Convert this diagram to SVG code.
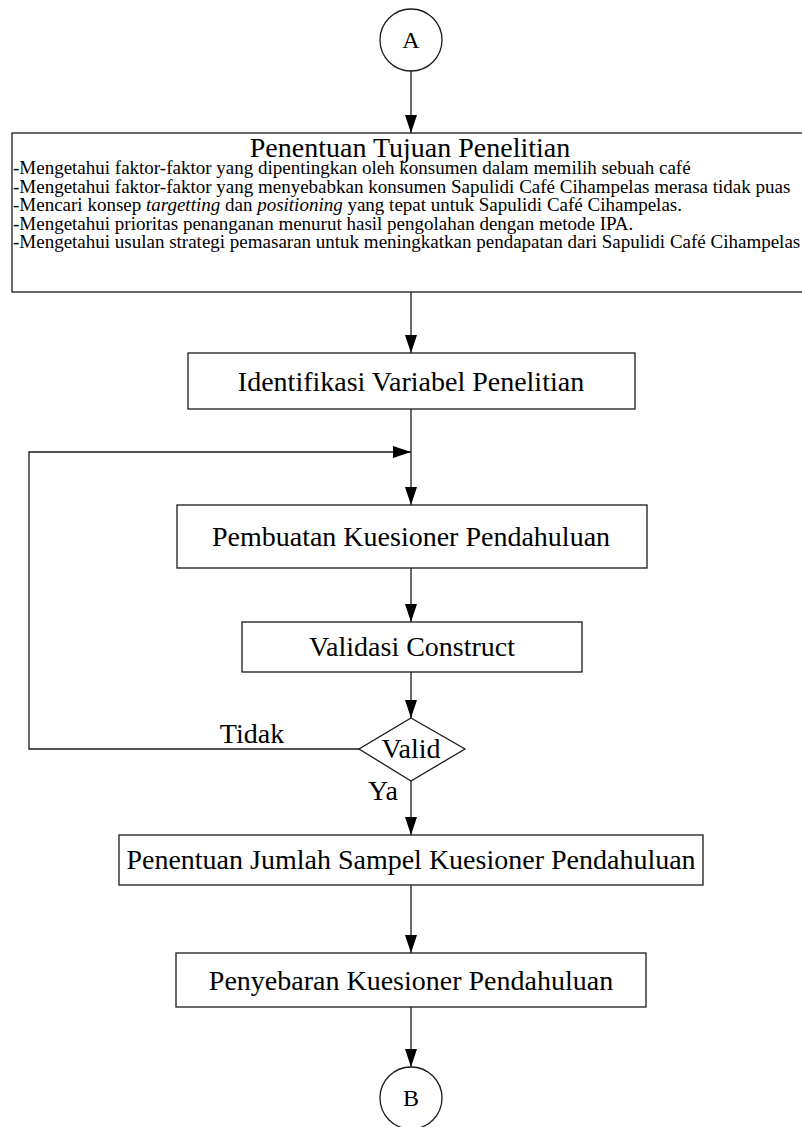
<svg xmlns="http://www.w3.org/2000/svg" width="802" height="1127" viewBox="0 0 802 1127">
<defs>
<marker id="arr" markerUnits="userSpaceOnUse" markerWidth="18" markerHeight="12" refX="18" refY="6" orient="auto">
<path d="M0,0 L18,6 L0,12 z" fill="#000"/>
</marker>
<style>
.shape{fill:#fff;stroke:#1a1a1a;stroke-width:1.3}
.conn{fill:none;stroke:#1a1a1a;stroke-width:1.3}
.lbl{font-family:"Liberation Serif","Times New Roman",serif;font-size:28px;fill:#000;text-anchor:middle}
.body{font-family:"Liberation Serif","Times New Roman",serif;font-size:19px;fill:#000}
.sym{font-family:"Liberation Serif","Times New Roman",serif;font-size:24px;fill:#000;text-anchor:middle}
</style>
</defs>
<rect width="802" height="1127" fill="#fff"/>
<g id="connectors">
<line class="conn" x1="411" y1="71" x2="411" y2="133" marker-end="url(#arr)"/>
<line class="conn" x1="411" y1="292" x2="411" y2="353" marker-end="url(#arr)"/>
<line class="conn" x1="411" y1="409" x2="411" y2="505" marker-end="url(#arr)"/>
<line class="conn" x1="411" y1="568" x2="411" y2="622" marker-end="url(#arr)"/>
<line class="conn" x1="411" y1="672" x2="411" y2="718" marker-end="url(#arr)"/>
<polyline class="conn" points="359,749 29,749 29,452 411,452" marker-end="url(#arr)"/>
<line class="conn" x1="411" y1="781" x2="411" y2="835" marker-end="url(#arr)"/>
<line class="conn" x1="411" y1="885" x2="411" y2="953" marker-end="url(#arr)"/>
<line class="conn" x1="411" y1="1007" x2="411" y2="1067" marker-end="url(#arr)"/>
<text class="lbl" x="252" y="743">Tidak</text>
<text class="lbl" x="383" y="800">Ya</text>
</g>
<g id="nodeA">
<circle class="shape" cx="411" cy="40" r="31"/>
<text class="sym" x="411" y="48">A</text>
</g>
<g id="tujuan">
<rect class="shape" x="12" y="133" width="800" height="159"/>
<text class="lbl" x="410" y="157">Penentuan Tujuan Penelitian</text>
<text class="body" x="13" y="174">-Mengetahui faktor-faktor yang dipentingkan oleh konsumen dalam memilih sebuah café</text>
<text class="body" x="13" y="192.5">-Mengetahui faktor-faktor yang menyebabkan konsumen Sapulidi Café Cihampelas merasa tidak puas</text>
<text class="body" x="13" y="211">-Mencari konsep <tspan font-style="italic">targetting</tspan> dan <tspan font-style="italic">positioning</tspan> yang tepat untuk Sapulidi Café Cihampelas.</text>
<text class="body" x="13" y="229.5">-Mengetahui prioritas penanganan menurut hasil pengolahan dengan metode IPA.</text>
<text class="body" x="13" y="248">-Mengetahui usulan strategi pemasaran untuk meningkatkan pendapatan dari Sapulidi Café Cihampelas</text>
</g>
<g id="identifikasi">
<rect class="shape" x="188" y="353" width="447" height="56"/>
<text class="lbl" x="411" y="391">Identifikasi Variabel Penelitian</text>
</g>
<g id="pembuatan">
<rect class="shape" x="177" y="505" width="470" height="63"/>
<text class="lbl" x="411" y="546">Pembuatan Kuesioner Pendahuluan</text>
</g>
<g id="validasi">
<rect class="shape" x="242" y="622" width="340" height="50"/>
<text class="lbl" x="412" y="656">Validasi Construct</text>
</g>
<g id="valid">
<polygon class="shape" points="411,718 465,749 411,781 359,749"/>
<text class="lbl" x="411" y="758">Valid</text>
</g>
<g id="jumlah">
<rect class="shape" x="119" y="835" width="584" height="50"/>
<text class="lbl" x="411" y="869">Penentuan Jumlah Sampel Kuesioner Pendahuluan</text>
</g>
<g id="penyebaran">
<rect class="shape" x="176" y="953" width="470" height="54"/>
<text class="lbl" x="411" y="990">Penyebaran Kuesioner Pendahuluan</text>
</g>
<g id="nodeB">
<circle class="shape" cx="411" cy="1098" r="31"/>
<text class="sym" x="411" y="1106">B</text>
</g>
</svg>
